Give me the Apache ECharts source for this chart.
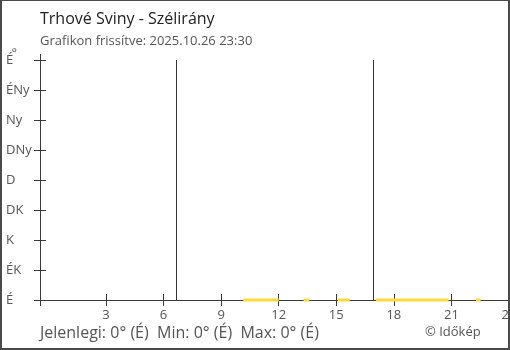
<!DOCTYPE html>
<html>
<head>
<meta charset="utf-8">
<script src="https://cdn.jsdelivr.net/npm/echarts@6/dist/echarts.min.js"></script>
<style>
html,body{margin:0;padding:0;background:#fff;}
#wrap{position:relative;width:510px;height:350px;}
#chart{width:510px;height:350px;}
#frame{position:absolute;left:0;top:0;width:510px;height:350px;box-sizing:border-box;border-style:solid;border-color:#4a4a4a;border-width:1px 2px 2px 2px;pointer-events:none;}
</style>
</head>
<body>
<div id="wrap"><div id="chart"></div><div id="frame"></div></div>
<script>
// ---- data ----
const titleText = 'Trhové Sviny - Szélirány';
const subtitleText = 'Grafikon frissítve: 2025.10.26 23:30';
const statsText = 'Jelenlegi: 0° (É)  Min: 0° (É)  Max: 0° (É)';
const creditText = '© Időkép';
const directionLabels = ['É', 'ÉK', 'K', 'DK', 'D', 'DNy', 'Ny', 'ÉNy', 'É'];
const hourTicks = [3, 6, 9, 12, 15, 18, 21, 24];
// wind direction segments (hours of day, degrees)
const segStart = [10.15, 13.3, 15.07, 17.07, 22.28];
const segEnd   = [12.0, 13.6, 15.7, 20.85, 22.52];
const segValue = [0, 0, 0, 0, 0];
// sunrise / sunset markers (hours)
const dayMarks = [6.65, 16.91];

const xMin = -0.44, xMax = 24;
const data = [];
segStart.forEach((s, i) => {
  data.push([s, segValue[i]]);
  data.push([segEnd[i], segValue[i]]);
  data.push([segEnd[i], '-']);
});

const axisColor = '#3a3a3a';
const textColor = '#555';
const font = 'Open Sans';

const chart = echarts.init(document.getElementById('chart'));
chart.setOption({
  animation: false,
  textStyle: { fontFamily: font },
  title: [
    { text: titleText, subtext: subtitleText, left: 35, top: 6,
      textStyle: { fontSize: 16, fontWeight: 'normal', color: '#222', fontFamily: font },
      subtextStyle: { fontSize: 13, color: textColor, fontFamily: font }, itemGap: 8 },
    { text: statsText, left: 35, top: 320,
      textStyle: { fontSize: 16, fontWeight: 'normal', color: textColor, fontFamily: font } },
    { text: creditText, left: 420, top: 321,
      textStyle: { fontSize: 13, fontWeight: 'normal', color: textColor, fontFamily: font } }
  ],
  grid: { left: 40, right: 1, top: 60, bottom: 50, containLabel: false, outerBoundsMode: 'none' },
  xAxis: [
    { type: 'value', min: xMin, max: xMax, position: 'bottom',
      axisLine: { show: true, onZero: false, lineStyle: { color: axisColor, width: 1 } },
      axisTick: { show: true, length: 6, customValues: [xMin].concat(hourTicks), lineStyle: { color: axisColor } },
      axisLabel: { show: true, customValues: hourTicks, margin: 9, fontSize: 13, color: textColor, fontFamily: font, hideOverlap: false },
      splitLine: { show: false } },
    { type: 'value', min: xMin, max: xMax, position: 'bottom',
      axisLine: { show: false, onZero: false },
      axisTick: { show: true, inside: true, length: 6, customValues: [xMin].concat(hourTicks), lineStyle: { color: axisColor } },
      axisLabel: { show: false }, splitLine: { show: false } },
    { type: 'value', min: xMin, max: xMax, position: 'top',
      axisLine: { show: false, onZero: false },
      axisTick: { show: true, length: 6, customValues: [xMin], lineStyle: { color: axisColor } },
      axisLabel: { show: false }, splitLine: { show: false } }
  ],
  yAxis: [
    { type: 'value', min: 0, max: 360, interval: 45, position: 'left',
      name: '°', nameLocation: 'end', nameGap: 13, nameMoveOverlap: false,
      nameTextStyle: { fontSize: 13, color: textColor, align: 'right', verticalAlign: 'top', padding: [0, 23, 0, 0] },
      axisLine: { show: true, onZero: false, lineStyle: { color: axisColor, width: 1 } },
      axisTick: { show: true, length: 6, lineStyle: { color: axisColor } },
      axisLabel: { show: true, align: 'left', margin: 34, fontSize: 13, color: textColor, fontFamily: font,
        formatter: (v) => directionLabels[Math.round(v / 45)] },
      splitLine: { show: false } },
    { type: 'value', min: 0, max: 360, interval: 45, position: 'left',
      axisLine: { show: false, onZero: false },
      axisTick: { show: true, inside: true, length: 6, lineStyle: { color: axisColor } },
      axisLabel: { show: false }, splitLine: { show: false } }
  ],
  series: [
    { type: 'line', xAxisIndex: 0, yAxisIndex: 0, data: data, showSymbol: false, connectNulls: false,
      clip: false, z: 5,
      lineStyle: { color: '#FFD83A', width: 3 },
      markLine: { silent: true, symbol: 'none', label: { show: false },
        lineStyle: { color: '#333', width: 1, type: 'solid' },
        data: dayMarks.map(h => ({ xAxis: h })) } }
  ]
});
</script>
</body>
</html>
